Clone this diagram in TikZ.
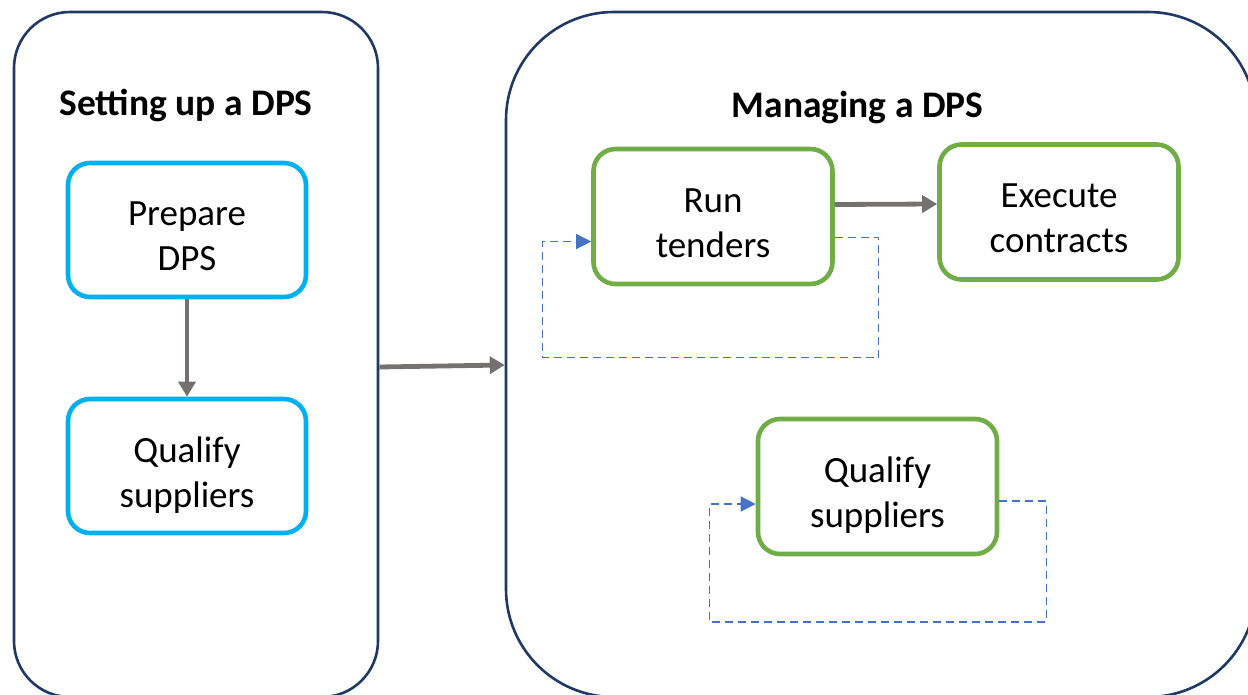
\documentclass[tikz,border=0pt]{standalone}
\usepackage{fontspec}
\setmainfont{Carlito}
\usetikzlibrary{arrows.meta}
\definecolor{navy}{HTML}{1F3864}
\definecolor{skyblue}{HTML}{00B0F0}
\definecolor{leafgreen}{HTML}{70AD47}
\definecolor{arrowgray}{HTML}{767171}
\definecolor{loopblue}{HTML}{4472C4}
% two-line task label with fixed struts so every label sits alike
\newcommand\tasklabel[2]{\rule{0pt}{45pt}#1\\#2\rule[-8pt]{0pt}{8pt}}
\tikzset{
  phase/.style={draw=navy, line width=2.6pt, rectangle},
  heading/.style={font=\fontsize{37.5}{45}\selectfont\bfseries, anchor=base},
  task/.style={rectangle, rounded corners=22pt, line width=4.6pt, fill=white,
    align=center, font=\fontsize{37}{45}\selectfont, inner sep=0pt},
  setuptask/.style={task, draw=skyblue, minimum width=238pt, minimum height=134pt},
  managetask/.style={task, draw=leafgreen, minimum width=239pt, minimum height=135pt},
  flow/.style={draw=arrowgray, line width=4.8pt,
    -{Triangle[length=15pt,width=17pt]}},
  repeatloop/.style={draw=loopblue, line width=1.3pt, dash pattern=on 8pt off 5pt,
    -{Triangle[length=15pt,width=15pt]}},
}
\begin{document}
\begin{tikzpicture}[x=1pt, y=-1pt]
  \useasboundingbox (0,0) rectangle (1248,695);
  \clip (0,0) rectangle (1248,695);

  % the two phases
  \node[phase, rounded corners=56pt, minimum width=364pt, minimum height=685pt]
    (setup) at (196,354.5) {};
  \node[phase, rounded corners=108pt, minimum width=750pt, minimum height=685pt]
    (manage) at (881,354.5) {};

  \node[heading] (setuptitle) at (186,116) {Setting up a DPS};
  \node[heading] (managetitle) at (857.5,118) {Managing a DPS};

  % setting up
  \node[setuptask] (prepare) at (187,230) {\tasklabel{Prepare}{DPS}};
  \node[setuptask] (qualifyA) at (187,466) {\tasklabel{Qualify}{suppliers}};
  \draw[flow] (prepare.south) -- (qualifyA.north);

  % managing
  \node[managetask] (tenders) at (713,216.5) {\tasklabel{Run}{tenders}};
  \node[managetask] (execute) at (1059,212) {\tasklabel{Execute}{contracts}};
  \node[managetask] (qualifyB) at (877.5,486.5) {\tasklabel{Qualify}{suppliers}};
  \draw[flow] ([yshift=12pt]tenders.east) -- ([yshift=8pt]execute.west);

  % repeating activities
  \draw[repeatloop] ([yshift=-21pt]tenders.east) -- ++(44,0)
    |- ([xshift=-49pt,yshift=-141pt]tenders.west)
    |- ([yshift=-25pt]tenders.west);
  \draw[repeatloop] ([yshift=-14.5pt]qualifyB.east) -- ++(47,0)
    |- ([xshift=-46pt,yshift=-135.5pt]qualifyB.west)
    |- ([yshift=-17.5pt]qualifyB.west);

  % hand-over between phases
  \draw[flow] ([yshift=-12.5pt]setup.east) -- ([yshift=-10.5pt]manage.west);
\end{tikzpicture}
\end{document}
